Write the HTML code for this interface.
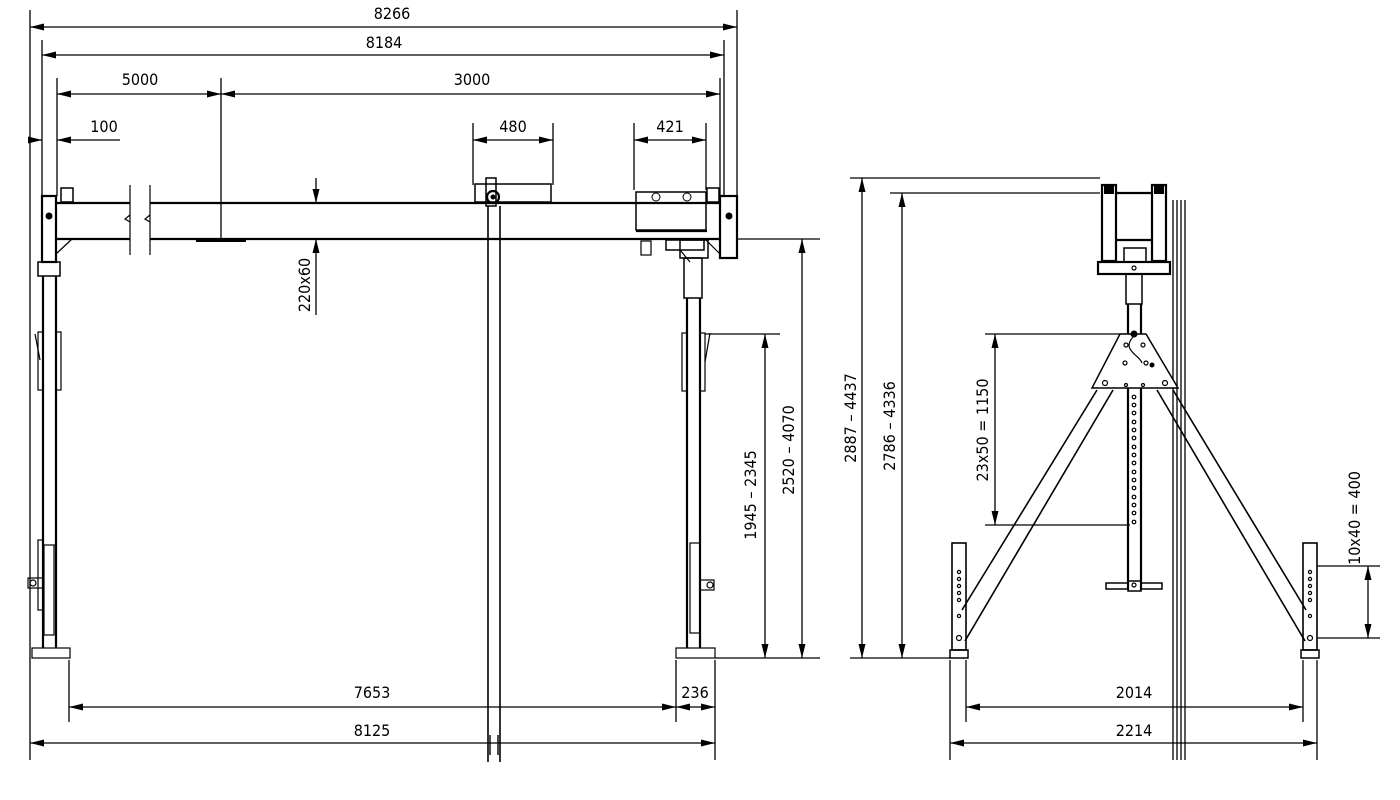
<!DOCTYPE html>
<html><head><meta charset="utf-8"><style>
html,body{margin:0;padding:0;background:#fff;}
svg{display:block;}
text{font-family:"Liberation Sans Narrow","DejaVu Sans Condensed","Liberation Sans",sans-serif;font-size:16px;fill:#000;}
</style></head><body>
<svg width="1400" height="800" viewBox="0 0 1400 800" xmlns="http://www.w3.org/2000/svg">
<defs>
<marker id="a" viewBox="0 0 14 7" refX="14" refY="3.5" markerWidth="14" markerHeight="7" orient="auto-start-reverse" markerUnits="userSpaceOnUse"><path d="M0,0L14,3.5L0,7z" fill="#000"/></marker>
</defs>
<g stroke="#000" fill="none" stroke-width="1.3">
<line x1="30" y1="10" x2="30" y2="760"/>
<line x1="737" y1="10" x2="737" y2="198"/>
<line x1="42" y1="40" x2="42" y2="196"/>
<line x1="724" y1="40" x2="724" y2="196"/>
<line x1="57" y1="78" x2="57" y2="196"/>
<line x1="221" y1="78" x2="221" y2="239"/>
<line x1="720" y1="78" x2="720" y2="196"/>
<line x1="473" y1="123" x2="473" y2="185"/>
<line x1="553" y1="123" x2="553" y2="185"/>
<line x1="634" y1="123" x2="634" y2="190"/>
<line x1="706" y1="123" x2="706" y2="190"/>
<line x1="69" y1="660" x2="69" y2="722"/>
<line x1="676" y1="660" x2="676" y2="722"/>
<line x1="715" y1="660" x2="715" y2="760"/>
<line x1="737" y1="239" x2="820" y2="239"/>
<line x1="715" y1="658" x2="820" y2="658"/>
<line x1="705" y1="334" x2="780" y2="334"/>
<line x1="316" y1="178" x2="316" y2="203" marker-end="url(#a)"/>
<line x1="316" y1="315" x2="316" y2="239" marker-end="url(#a)"/>
<line x1="30" y1="27" x2="737" y2="27" marker-start="url(#a)" marker-end="url(#a)"/>
<line x1="42" y1="55" x2="724" y2="55" marker-start="url(#a)" marker-end="url(#a)"/>
<line x1="57" y1="94" x2="221" y2="94" marker-start="url(#a)" marker-end="url(#a)"/>
<line x1="221" y1="94" x2="720" y2="94" marker-start="url(#a)" marker-end="url(#a)"/>
<line x1="30" y1="140" x2="42" y2="140" marker-end="url(#a)"/>
<line x1="120" y1="140" x2="57" y2="140" marker-end="url(#a)"/>
<line x1="473" y1="140" x2="553" y2="140" marker-start="url(#a)" marker-end="url(#a)"/>
<line x1="634" y1="140" x2="706" y2="140" marker-start="url(#a)" marker-end="url(#a)"/>
<line x1="69" y1="707" x2="676" y2="707" marker-start="url(#a)" marker-end="url(#a)"/>
<line x1="676" y1="707" x2="715" y2="707" marker-start="url(#a)" marker-end="url(#a)"/>
<line x1="30" y1="743" x2="715" y2="743" marker-start="url(#a)" marker-end="url(#a)"/>
<line x1="765" y1="334" x2="765" y2="658" marker-start="url(#a)" marker-end="url(#a)"/>
<line x1="802" y1="239" x2="802" y2="658" marker-start="url(#a)" marker-end="url(#a)"/>
</g>
<g stroke="#000" fill="none" stroke-width="2.2">
<line x1="56" y1="203" x2="130" y2="203"/><line x1="150" y1="203" x2="720" y2="203"/>
<line x1="56" y1="239" x2="130" y2="239"/><line x1="150" y1="239" x2="720" y2="239"/>
<rect x="42" y="196" width="14" height="66" fill="#fff"/>
<rect x="720" y="196" width="17" height="62" fill="#fff"/>
<rect x="61" y="188" width="12" height="14" stroke-width="1.5"/>
<rect x="707" y="188" width="12" height="14" stroke-width="1.5"/>
<rect x="38" y="262" width="22" height="14" stroke-width="1.5"/>
<line x1="43" y1="276" x2="43" y2="648"/><line x1="56" y1="276" x2="56" y2="648"/>
<line x1="45" y1="545" x2="55" y2="545" stroke-width="1"/>
<rect x="32" y="648" width="38" height="10" stroke-width="1.2"/>
<rect x="680" y="240" width="28" height="18" stroke-width="1.5"/>
<rect x="684" y="258" width="18" height="40" stroke-width="1.5"/>
<line x1="687" y1="298" x2="687" y2="648"/><line x1="700" y1="298" x2="700" y2="648"/>
<rect x="676" y="648" width="39" height="10" stroke-width="1.2"/>
<rect x="475" y="184" width="76" height="18" stroke-width="1.5"/>
<rect x="486" y="178" width="10" height="28" stroke-width="1.5"/>
<circle cx="493" cy="197" r="6"/>
<rect x="636" y="192" width="70" height="38" stroke-width="1.5"/>
<line x1="636" y1="231" x2="707" y2="231"/>
<rect x="666" y="240" width="38" height="10" stroke-width="1.5"/>
<rect x="641" y="241" width="10" height="14" stroke-width="1.2"/>
<line x1="488" y1="206" x2="488" y2="762" stroke-width="1.6"/>
<line x1="500" y1="206" x2="500" y2="762" stroke-width="1.6"/>
<line x1="490" y1="735" x2="490" y2="755" stroke-width="1.4"/>
<line x1="498" y1="735" x2="498" y2="755" stroke-width="1.4"/>
</g>
<g stroke="#000" fill="none" stroke-width="1.2">
<line x1="130" y1="185" x2="130" y2="255"/><line x1="150" y1="185" x2="150" y2="255"/>
<path d="M130,215 l-5,4 5,3"/><path d="M150,215 l-5,4 5,3"/>
<line x1="56" y1="254" x2="72" y2="239"/>
<line x1="706" y1="240" x2="720" y2="254"/>
<line x1="680" y1="250" x2="690" y2="262"/>
<rect x="38" y="332" width="5" height="58"/><rect x="56" y="332" width="5" height="58"/>
<line x1="35" y1="334" x2="40" y2="360"/>
<rect x="38" y="540" width="5" height="70"/>
<rect x="28" y="578" width="15" height="10"/>
<circle cx="33" cy="583" r="3"/>
<rect x="44" y="545" width="10" height="90"/>
<rect x="682" y="333" width="5" height="58"/><rect x="700" y="333" width="5" height="58"/>
<line x1="710" y1="333" x2="705" y2="362"/>
<rect x="690" y="543" width="10" height="90"/>
<rect x="700" y="580" width="14" height="10"/>
<circle cx="710" cy="585" r="3"/>
</g>
<g fill="#000">
<circle cx="49" cy="216" r="3.5"/>
<circle cx="729" cy="216" r="3.5"/>
<circle cx="493" cy="197" r="2.5"/>
<circle cx="656" cy="197" r="4" fill="none" stroke="#000"/>
<circle cx="687" cy="197" r="4" fill="none" stroke="#000"/>
<rect x="196" y="239" width="50" height="3"/>
</g>
<text x="140" y="85" text-anchor="middle">5000</text>
<text x="472" y="85" text-anchor="middle">3000</text>
<text x="392" y="19" text-anchor="middle">8266</text>
<text x="384" y="48" text-anchor="middle">8184</text>
<text x="104" y="132" text-anchor="middle">100</text>
<text x="513" y="132" text-anchor="middle">480</text>
<text x="670" y="132" text-anchor="middle">421</text>
<text x="372" y="698" text-anchor="middle">7653</text>
<text x="695" y="698" text-anchor="middle">236</text>
<text x="372" y="736" text-anchor="middle">8125</text>
<text transform="translate(310,285) rotate(-90)" text-anchor="middle">220x60</text>
<text transform="translate(756,495) rotate(-90)" text-anchor="middle">1945 – 2345</text>
<text transform="translate(794,450) rotate(-90)" text-anchor="middle">2520 – 4070</text>

<g stroke="#000" fill="none" stroke-width="1.3">
<line x1="850" y1="178" x2="1100" y2="178"/>
<line x1="890" y1="193" x2="1100" y2="193"/>
<line x1="850" y1="658" x2="950" y2="658"/>
<line x1="862" y1="178" x2="862" y2="658" marker-start="url(#a)" marker-end="url(#a)"/>
<line x1="902" y1="193" x2="902" y2="658" marker-start="url(#a)" marker-end="url(#a)"/>
<line x1="985" y1="334" x2="1128" y2="334"/>
<line x1="985" y1="525" x2="1130" y2="525"/>
<line x1="995" y1="334" x2="995" y2="525" marker-start="url(#a)" marker-end="url(#a)"/>
<line x1="1317" y1="566" x2="1380" y2="566"/>
<line x1="1317" y1="638" x2="1380" y2="638"/>
<line x1="1368" y1="566" x2="1368" y2="638" marker-start="url(#a)" marker-end="url(#a)"/>
<line x1="966" y1="660" x2="966" y2="722"/>
<line x1="1303" y1="660" x2="1303" y2="722"/>
<line x1="950" y1="660" x2="950" y2="760"/>
<line x1="1317" y1="660" x2="1317" y2="760"/>
<line x1="966" y1="707" x2="1303" y2="707" marker-start="url(#a)" marker-end="url(#a)"/>
<line x1="950" y1="743" x2="1317" y2="743" marker-start="url(#a)" marker-end="url(#a)"/>
<line x1="1173" y1="200" x2="1173" y2="760"/><line x1="1177" y1="200" x2="1177" y2="760"/>
<line x1="1181" y1="200" x2="1181" y2="760"/><line x1="1185" y1="200" x2="1185" y2="760"/>
<line x1="1097" y1="390" x2="962" y2="610" stroke-width="1.6"/>
<line x1="1113" y1="390" x2="965" y2="641" stroke-width="1.6"/>
<line x1="1173" y1="390" x2="1306" y2="610" stroke-width="1.6"/>
<line x1="1157" y1="390" x2="1305" y2="641" stroke-width="1.6"/>
</g>
<g stroke="#000" fill="none" stroke-width="2.2">
<rect x="1102" y="185" width="14" height="76"/>
<rect x="1152" y="185" width="14" height="76"/>
<line x1="1116" y1="193" x2="1152" y2="193"/>
<line x1="1116" y1="240" x2="1152" y2="240"/>
<rect x="1098" y="262" width="72" height="12"/>
<rect x="1126" y="274" width="16" height="30" stroke-width="1.5"/>
<line x1="1128" y1="304" x2="1128" y2="590"/><line x1="1141" y1="304" x2="1141" y2="590"/>
<path d="M1120,334 L1146,334 L1178,388 L1092,388 Z" fill="#fff" stroke-width="1.5"/>
<rect x="952" y="543" width="14" height="107" stroke-width="1.6"/>
<rect x="1303" y="543" width="14" height="107" stroke-width="1.6"/>
<rect x="950" y="650" width="18" height="8" stroke-width="1.5"/>
<rect x="1301" y="650" width="18" height="8" stroke-width="1.5"/>
<rect x="1106" y="583" width="22" height="6" stroke-width="1.5"/>
<rect x="1141" y="583" width="21" height="6" stroke-width="1.5"/>
<rect x="1128" y="581" width="13" height="10" stroke-width="1.5"/>
<rect x="1124" y="248" width="22" height="14" stroke-width="1.5"/>
</g>
<g fill="none" stroke="#000" stroke-width="1.2">
<path d="M1134,336 C1120,350 1140,355 1142,363"/>
<circle cx="1105" cy="383" r="2.5"/><circle cx="1165" cy="383" r="2.5"/>
<circle cx="1125" cy="363" r="2"/><circle cx="1146" cy="363" r="2"/>
<circle cx="1126" cy="345" r="2"/><circle cx="1143" cy="345" r="2"/>
<circle cx="1126" cy="385" r="1.5"/><circle cx="1143" cy="385" r="1.5"/>
<circle cx="1134" cy="397" r="1.8"/><circle cx="1134" cy="405" r="1.8"/><circle cx="1134" cy="413" r="1.8"/>
<circle cx="1134" cy="422" r="1.8"/><circle cx="1134" cy="430" r="1.8"/><circle cx="1134" cy="438" r="1.8"/>
<circle cx="1134" cy="447" r="1.8"/><circle cx="1134" cy="455" r="1.8"/><circle cx="1134" cy="463" r="1.8"/>
<circle cx="1134" cy="472" r="1.8"/><circle cx="1134" cy="480" r="1.8"/><circle cx="1134" cy="488" r="1.8"/>
<circle cx="1134" cy="497" r="1.8"/><circle cx="1134" cy="505" r="1.8"/><circle cx="1134" cy="513" r="1.8"/>
<circle cx="1134" cy="522" r="1.8"/>
<circle cx="959" cy="572" r="1.6"/><circle cx="959" cy="579" r="1.6"/><circle cx="959" cy="586" r="1.6"/>
<circle cx="959" cy="593" r="1.6"/><circle cx="959" cy="600" r="1.6"/><circle cx="959" cy="616" r="1.6"/>
<circle cx="959" cy="638" r="2.5"/>
<circle cx="1310" cy="572" r="1.6"/><circle cx="1310" cy="579" r="1.6"/><circle cx="1310" cy="586" r="1.6"/>
<circle cx="1310" cy="593" r="1.6"/><circle cx="1310" cy="600" r="1.6"/><circle cx="1310" cy="616" r="1.6"/>
<circle cx="1310" cy="638" r="2.5"/>
<circle cx="1134" cy="268" r="2"/><circle cx="1134" cy="585" r="2"/>
</g>
<g fill="#000"><circle cx="1134" cy="334" r="3.5"/><circle cx="1152" cy="365" r="2.5"/>
<rect x="1104" y="186" width="10" height="8"/><rect x="1154" y="186" width="10" height="8"/></g>
<text x="1134" y="698" text-anchor="middle">2014</text>
<text x="1134" y="736" text-anchor="middle">2214</text>
<text transform="translate(856,418) rotate(-90)" text-anchor="middle">2887 – 4437</text>
<text transform="translate(895,426) rotate(-90)" text-anchor="middle">2786 – 4336</text>
<text transform="translate(988,430) rotate(-90)" text-anchor="middle">23x50 = 1150</text>
<text transform="translate(1360,518) rotate(-90)" text-anchor="middle">10x40 = 400</text>
</svg>
</body></html>
